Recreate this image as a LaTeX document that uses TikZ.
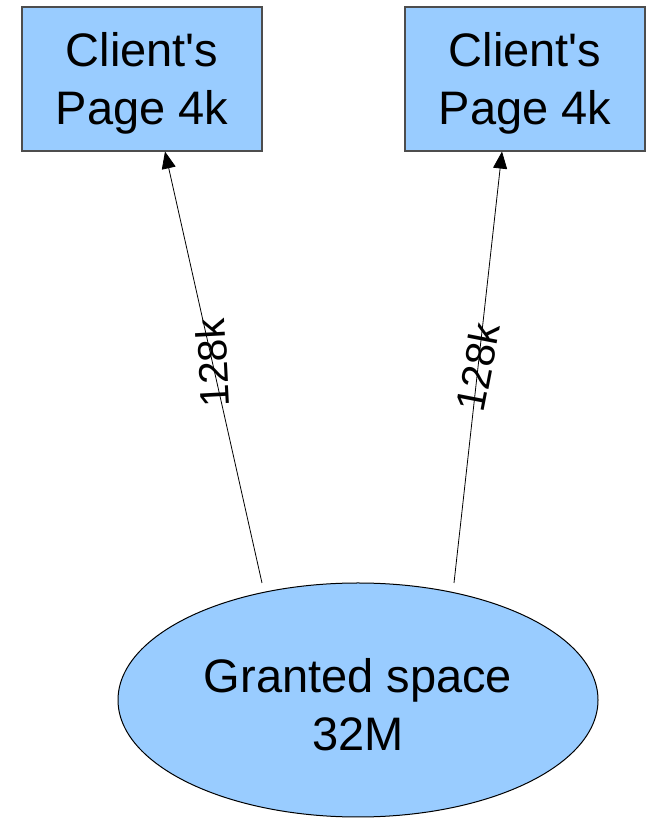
\documentclass[tikz,border=0pt]{standalone}
\usepackage{fontspec}
\setmainfont{Liberation Sans}
\usetikzlibrary{arrows.meta,shapes.geometric,calc}
\definecolor{boxblue}{HTML}{99CCFF}
\definecolor{edgegray}{HTML}{4D4D4D}
\newcommand{\lowered}[2]{\raisebox{0pt}[\dimexpr\height+#1\relax][\depth]{#2}}
\begin{document}
\begin{tikzpicture}[x=1pt,y=1pt,
  pagebox/.style={draw=edgegray,line width=1.1pt,fill=boxblue,minimum width=240pt,minimum height=144pt,inner sep=0pt},
  spacenode/.style={ellipse,draw=black,line width=1pt,fill=boxblue,minimum width=480pt,minimum height=234pt,inner sep=0pt},
  link/.style={line width=0.8pt,-{Triangle[length=17pt,width=14pt]}},
  sizelabel/.style={font=\fontsize{41}{48}\selectfont,inner sep=0pt}]
\useasboundingbox (0,0) rectangle (646,821);
\node[pagebox] (b1) at (142,742) {\fontsize{47}{58}\selectfont\lowered{10pt}{\begin{tabular}{@{}c@{}}Client\textquotesingle s\\Page 4k\end{tabular}}};
\node[pagebox] (b2) at (525,742) {\fontsize{47}{58}\selectfont\lowered{10pt}{\begin{tabular}{@{}c@{}}Client\textquotesingle s\\Page 4k\end{tabular}}};
\node[spacenode] (g) at (358,121) {\fontsize{47}{58}\selectfont\lowered{20pt}{\begin{tabular}{@{}c@{}}Granted space\\32M\end{tabular}}};
\coordinate (s1) at (262,238);
\coordinate (s2) at (454,238);
\coordinate (t1) at ($(b1.south)+(23,0)$);
\coordinate (t2) at ($(b2.south)+(-23,0)$);
\draw[link] (s1) -- node[sizelabel,pos=0.51,rotate=93] (l1) {128k} (t1);
\draw[link] (s2) -- node[sizelabel,pos=0.5,rotate=79] (l2) {128k} (t2);
\end{tikzpicture}
\end{document}
